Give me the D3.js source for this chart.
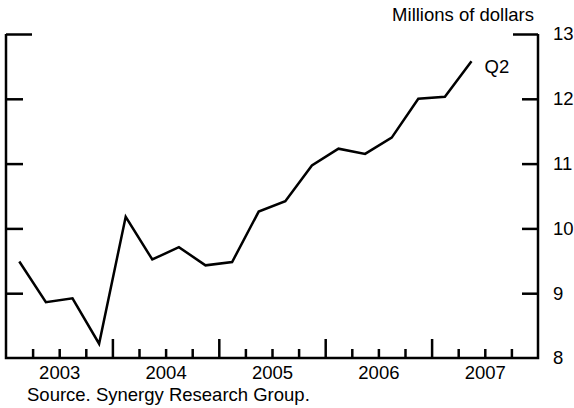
<!DOCTYPE html>
<html>
<head>
<meta charset="utf-8">
<script src="https://d3js.org/d3.v7.min.js"></script>
<style>
  body { margin: 0; background: #fff; }
  svg text { font-family: "Liberation Sans", Arial, sans-serif; fill: #000; }
</style>
</head>
<body>
<svg id="chart" width="574" height="408"></svg>
<script>
// quarterly, 2003 Q1 .. 2007 Q2
var quarters = ["2003Q1","2003Q2","2003Q3","2003Q4","2004Q1","2004Q2","2004Q3","2004Q4",
  "2005Q1","2005Q2","2005Q3","2005Q4","2006Q1","2006Q2","2006Q3","2006Q4","2007Q1","2007Q2"]
var revenue = [9.49, 8.86, 8.92, 8.22, 10.18, 9.52, 9.71, 9.43,
  9.48, 10.26, 10.42, 10.97, 11.23, 11.15, 11.40, 12.00, 12.03, 12.58]
var years = [2003, 2004, 2005, 2006, 2007]
var yTicks = [8, 9, 10, 11, 12, 13]

var fontSize = 18.5

var svg = d3.select("#chart")

var x = d3.scaleLinear().domain([2003, 2008]).range([6, 538])
var y = d3.scaleLinear().domain([8, 13]).range([358, 34])

// quarter string -> decimal year at middle of quarter
function qx(q) {
  return +q.slice(0, 4) + (+q.slice(5) - 1) / 4 + 0.125
}

var quarterEdges = d3.range(2003.25, 2008, 0.25).filter(d => d % 1 != 0)
var yearEdges = d3.range(2004, 2008)

// minor ticks (quarters)
svg.append("g")
  .attr("transform", "translate(0,358)")
  .call(d3.axisBottom(x).tickValues(quarterEdges).tickSize(-9).tickFormat(""))
  .call(g => g.select(".domain").remove())
  .selectAll("line").attr("stroke-width", 2.5)

// major ticks (years)
svg.append("g")
  .attr("transform", "translate(0,358)")
  .call(d3.axisBottom(x).tickValues(yearEdges).tickSize(-19).tickFormat(""))
  .call(g => g.select(".domain").remove())
  .selectAll("line").attr("stroke-width", 2.5)

// year labels, centered in each year
svg.append("g")
  .attr("transform", "translate(0,358)")
  .call(d3.axisBottom(x).tickValues(years.map(d => d + 0.5)).tickSize(0).tickPadding(8)
    .tickFormat(d => Math.floor(d)))
  .call(g => g.select(".domain").remove())
  .selectAll("text").attr("font-size", fontSize).attr("font-family", null)

// left axis ticks
var left = svg.append("g")
  .attr("transform", "translate(6,0)")
  .call(d3.axisRight(y).tickValues(yTicks.slice(1)).tickSize(17).tickFormat(""))
left.select(".domain").remove()
left.selectAll("line").attr("stroke-width", 2.5)
left.selectAll(".tick").filter(d => d == 13).select("line").attr("x2", 26)

// right axis ticks + labels
var right = svg.append("g")
  .attr("transform", "translate(538,0)")
  .call(d3.axisRight(y).tickValues(yTicks).tickSize(-16).tickPadding(15).tickFormat(d3.format("d")))
right.select(".domain").remove()
right.selectAll("line").attr("stroke-width", 2.5)
right.selectAll(".tick").filter(d => d == 8).select("line").remove()
right.selectAll(".tick").filter(d => d == 13).select("line").attr("x2", -25)
right.selectAll("text").attr("font-size", fontSize).attr("font-family", null)

// frame
svg.append("path")
  .attr("d", `M${x(2003)},${y(13)}V${y(8)}H${x(2008)}V${y(13)}`)
  .attr("fill", "none")
  .attr("stroke", "#000")
  .attr("stroke-width", 2.5)

// the series
var line = d3.line()
  .x((d, i) => x(qx(quarters[i])))
  .y(d => y(d))

svg.append("path")
  .datum(revenue)
  .attr("d", line)
  .attr("fill", "none")
  .attr("stroke", "#000")
  .attr("stroke-width", 2.5)
  .attr("stroke-linejoin", "miter")

var last = revenue.length - 1
svg.append("text")
  .attr("x", x(qx(quarters[last])) + 13)
  .attr("y", y(revenue[last]) + 12)
  .attr("font-size", fontSize)
  .text("Q2")

svg.append("text")
  .attr("x", 534)
  .attr("y", 21)
  .attr("text-anchor", "end")
  .attr("font-size", fontSize)
  .text("Millions of dollars")

svg.append("text")
  .attr("x", 27)
  .attr("y", 401)
  .attr("font-size", fontSize)
  .text("Source. Synergy Research Group.")
</script>
</body>
</html>
